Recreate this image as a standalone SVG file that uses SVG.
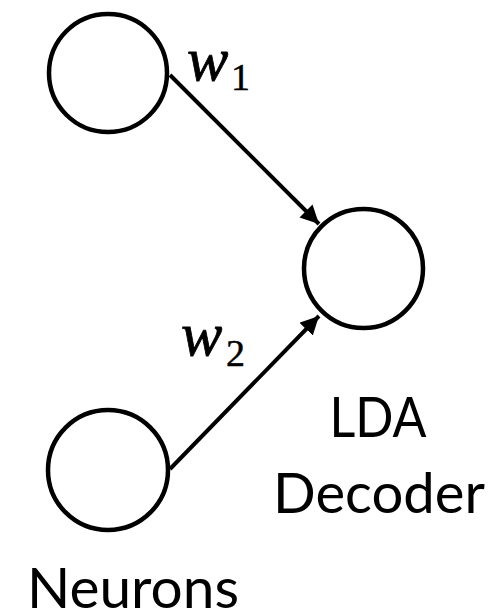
<svg xmlns="http://www.w3.org/2000/svg" width="495" height="614" viewBox="0 0 495 614">
  <style>
    .node { fill: #ffffff; stroke: #000000; stroke-width: 4.5; }
    .edge { stroke: #000000; stroke-width: 4; fill: none; }
    .label { font-family: Lato, "Open Sans", "Liberation Sans", sans-serif; font-size: 56px; fill: #000000; }
    .var { font-family: "Liberation Serif", "DejaVu Serif", serif; font-style: italic; font-size: 62px; fill: #000000; stroke: #000000; stroke-width: 0.8; }
    .sub { font-family: "Liberation Serif", "DejaVu Serif", serif; font-size: 38px; fill: #000000; stroke: #000000; stroke-width: 0.5; }
  </style>
  <defs>
    <marker id="arrow" viewBox="0 0 10 10" refX="10" refY="5" markerWidth="4.6" markerHeight="4.6" markerUnits="strokeWidth" orient="auto">
      <path d="M0,0 L10,5 L0,10 z" fill="#000000"/>
    </marker>
  </defs>
  <rect width="495" height="614" fill="#ffffff"/>

  <g id="connectors">
    <line class="edge" x1="170" y1="75" x2="319" y2="224" marker-end="url(#arrow)"/>
    <line class="edge" x1="170" y1="469" x2="319" y2="316" marker-end="url(#arrow)"/>
  </g>

  <g id="neuron1">
    <circle class="node" cx="108" cy="73" r="59"/>
  </g>
  <g id="neuron2">
    <circle class="node" cx="108" cy="470" r="60"/>
  </g>
  <g id="decoder">
    <circle class="node" cx="363.5" cy="268.5" r="59.5"/>
  </g>

  <g id="weight1">
    <text class="var" x="187" y="80">w</text>
    <text class="sub" x="231" y="90">1</text>
  </g>
  <g id="weight2">
    <text class="var" x="181" y="355">w</text>
    <text class="sub" x="226" y="366">2</text>
  </g>

  <g id="labels">
    <text class="label" x="378" y="437" text-anchor="middle" textLength="97" lengthAdjust="spacingAndGlyphs">LDA</text>
    <text class="label" x="379" y="513" text-anchor="middle" textLength="212" lengthAdjust="spacingAndGlyphs">Decoder</text>
    <text class="label" x="133" y="608" text-anchor="middle" textLength="212" lengthAdjust="spacingAndGlyphs">Neurons</text>
  </g>
</svg>
